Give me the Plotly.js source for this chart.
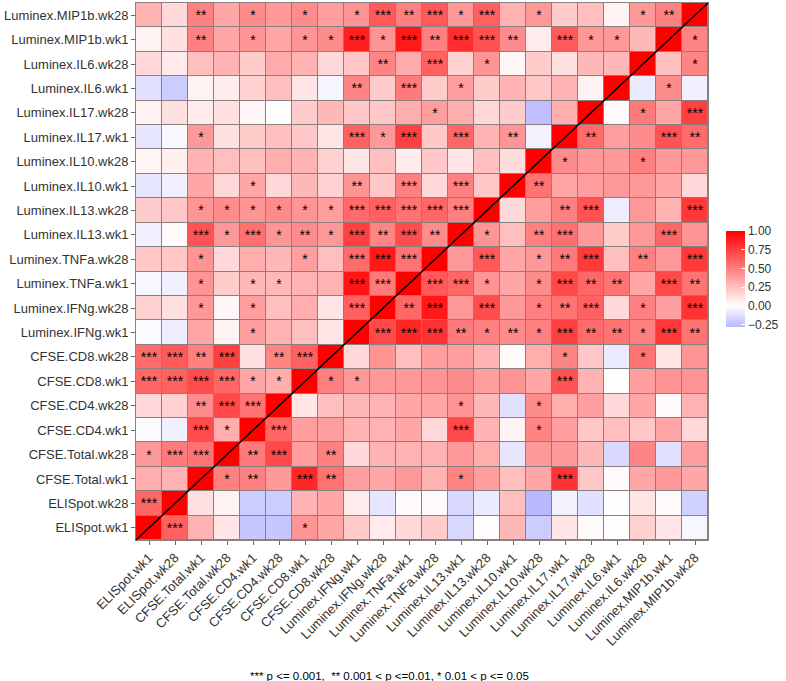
<!DOCTYPE html>
<html>
<head>
<meta charset="utf-8">
<script src="https://cdn.plot.ly/plotly-3.0.1.min.js"></script>
<style>html,body{margin:0;padding:0;background:#fff;}#chart{width:786px;height:681px;}</style>
</head>
<body>
<div id="chart"></div>
<script>
// Variables in axis order (x: left->right, y: bottom->top)
const vars = ["ELISpot.wk1","ELISpot.wk28","CFSE.Total.wk1","CFSE.Total.wk28","CFSE.CD4.wk1","CFSE.CD4.wk28",
  "CFSE.CD8.wk1","CFSE.CD8.wk28","Luminex.IFNg.wk1","Luminex.IFNg.wk28","Luminex.TNFa.wk1","Luminex.TNFa.wk28",
  "Luminex.IL13.wk1","Luminex.IL13.wk28","Luminex.IL10.wk1","Luminex.IL10.wk28","Luminex.IL17.wk1","Luminex.IL17.wk28",
  "Luminex.IL6.wk1","Luminex.IL6.wk28","Luminex.MIP1b.wk1","Luminex.MIP1b.wk28"];

// Correlation rows, listed from the TOP row (MIP1b.wk28) down to the bottom row (ELISpot.wk1)
const corrTopDown = [
 [0.30,0.15,0.50,0.35,0.45,0.40,0.45,0.38,0.42,0.65,0.50,0.65,0.40,0.62,0.30,0.40,0.20,0.25,0.05,0.40,0.50,1],
 [0.05,0.12,0.50,0.35,0.42,0.35,0.42,0.45,0.88,0.42,0.90,0.50,0.82,0.68,0.45,0.08,0.65,0.40,0.40,0.28,1,0.48],
 [0.15,0.08,0.25,0.30,0.20,0.33,0.30,0.15,0.22,0.48,0.33,0.62,0.18,0.42,0.03,0.20,0.12,0.28,0.28,1,0.25,0.48],
 [-0.12,-0.20,0.05,0.07,0.18,0.25,0.10,-0.04,0.48,0.20,0.52,0.20,0.38,0.20,0.30,0.22,0.30,0.05,1,-0.08,0.45,-0.06],
 [0.05,0.12,0.08,0.12,0.03,0.00,0.20,0.28,0.22,0.22,0.32,0.38,0.32,0.15,0.20,-0.25,0.32,1,0.02,0.52,0.35,0.75],
 [-0.10,-0.03,0.40,0.12,0.20,0.25,0.22,0.10,0.62,0.40,0.75,0.22,0.60,0.30,0.42,-0.05,1,0.58,0.38,0.45,0.68,0.58],
 [0.04,0.06,0.30,0.25,0.25,0.32,0.30,0.18,0.10,0.25,0.08,0.22,0.10,0.25,0.14,1,0.45,0.40,0.40,0.50,0.40,0.40],
 [-0.10,-0.06,0.35,0.15,0.35,0.15,0.28,0.18,0.42,0.22,0.50,0.15,0.50,0.22,1,0.55,0.35,0.38,0.40,0.40,0.35,0.15],
 [0.20,0.22,0.42,0.45,0.42,0.45,0.42,0.38,0.58,0.62,0.55,0.60,0.50,1,0.15,0.38,0.50,0.68,-0.07,0.40,0.30,0.78],
 [-0.06,0.02,0.68,0.40,0.56,0.42,0.45,0.40,0.75,0.48,0.70,0.45,1,0.42,0.25,0.50,0.56,0.40,0.20,0.40,0.60,0.42],
 [0.22,0.22,0.42,0.15,0.32,0.28,0.38,0.25,0.58,0.90,0.55,1,0.40,0.65,0.35,0.40,0.52,0.78,0.25,0.50,0.40,0.78],
 [-0.03,-0.06,0.42,0.20,0.28,0.28,0.30,0.30,0.92,0.52,1,0.65,0.60,0.42,0.35,0.45,0.72,0.60,0.55,0.35,0.72,0.55],
 [0.18,0.12,0.40,0.03,0.38,0.25,0.32,0.10,0.62,1,0.60,0.90,0.40,0.70,0.40,0.50,0.55,0.62,0.15,0.50,0.38,0.80],
 [-0.02,-0.07,0.35,0.05,0.38,0.30,0.25,0.10,1,0.72,0.85,0.80,0.52,0.50,0.45,0.50,0.75,0.58,0.55,0.50,0.78,0.55],
 [0.58,0.65,0.50,0.75,0.12,0.48,0.62,1,0.15,0.42,0.25,0.38,0.38,0.30,0.02,0.32,0.48,0.22,-0.08,0.55,0.10,0.42],
 [0.60,0.62,0.70,0.60,0.35,0.32,1,0.50,0.40,0.40,0.40,0.42,0.45,0.38,0.42,0.35,0.68,0.30,0.00,0.38,0.42,0.42],
 [0.15,0.18,0.45,0.72,0.55,1,0.10,0.25,0.28,0.30,0.35,0.35,0.42,0.28,-0.12,0.45,0.32,0.38,0.15,0.35,0.02,0.30],
 [-0.02,-0.06,0.70,0.32,1,0.60,0.38,0.38,0.30,0.30,0.35,0.15,0.72,0.30,0.05,0.48,0.38,0.22,0.25,0.22,0.35,0.15],
 [0.40,0.52,0.55,1,0.52,0.72,0.38,0.50,0.15,0.30,0.30,0.30,0.40,0.32,-0.10,0.40,0.40,0.28,-0.15,0.48,-0.12,0.38],
 [0.32,0.30,1,0.50,0.50,0.40,0.85,0.55,0.38,0.35,0.40,0.30,0.48,0.38,0.25,0.35,0.80,0.22,0.02,0.35,0.40,0.35],
 [0.60,1,0.12,0.05,-0.20,-0.20,0.30,0.35,0.08,-0.10,0.02,0.02,-0.15,-0.08,0.25,-0.28,-0.05,-0.12,0.00,0.10,0.02,-0.18],
 [1,0.62,0.30,0.10,-0.22,-0.22,0.42,0.35,0.20,0.08,0.15,0.20,-0.15,0.01,0.28,-0.20,0.10,0.02,0.00,0.18,0.10,-0.03]
];

// Significance stars, same layout (top row first)
const starsTopDown = [
 ['','','**','','*','','*','','*','***','**','***','*','***','','*','','','','*','**',''],
 ['','','**','','*','','*','*','***','*','***','**','***','***','**','','***','*','*','','','*'],
 ['','','','','','','','','','**','','***','','*','','','','','','','','*'],
 ['','','','','','','','','**','','***','','*','','','','','','','','*',''],
 ['','','','','','','','','','','','*','','','','','','','','*','','***'],
 ['','','*','','','','','','***','*','***','','***','','**','','','**','','','***','**'],
 ['','','','','','','','','','','','','','','','','*','','','*','',''],
 ['','','','','*','','','','**','','***','','***','','','**','','','','','',''],
 ['','','*','*','*','*','*','*','***','***','***','***','***','','','','**','***','','','','***'],
 ['','','***','*','***','*','**','*','***','**','***','**','','*','','**','***','','','','***',''],
 ['','','*','','','','*','','***','***','***','','','***','','*','**','***','','**','','***'],
 ['','','*','','*','*','','','***','***','','***','***','*','','*','***','**','**','','***','**'],
 ['','','*','','*','','','','***','','**','***','','***','','*','**','***','','*','','***'],
 ['','','','','*','','','','','***','***','***','**','*','**','*','***','**','**','*','***','**'],
 ['***','***','**','***','','**','***','','','','','','','','','','*','','','*','',''],
 ['***','***','***','***','*','*','','*','*','','','','','','','','***','','','','',''],
 ['','','**','***','***','','','','','','','','*','','','*','','','','','',''],
 ['','','***','*','','***','','','','','','','***','','','*','','','','','',''],
 ['*','***','***','','**','***','','**','','','','','','','','','','','','','',''],
 ['','','','*','**','','***','**','','','','','*','','','','***','','','','',''],
 ['***','','','','','','','','','','','','','','','','','','','','',''],
 ['','***','','','','','*','','','','','','','','','','','','','','','']
];

const colorTicks = [-0.25, 0, 0.25, 0.5, 0.75, 1];
const footnote = "*** p <= 0.001,  ** 0.001 < p <=0.01, * 0.01 < p <= 0.05";

// ---- build ----
const z = corrTopDown.slice().reverse();
const txt = starsTopDown.slice().reverse();
let zmin = Infinity, zmax = -Infinity;
z.forEach(r => r.forEach(v => { zmin = Math.min(zmin, v); zmax = Math.max(zmax, v); }));
const maxAbs = Math.max(Math.abs(zmin), Math.abs(zmax));

function colorAt(v) {
  const f = Math.min(1, Math.abs(v) / maxAbs);
  const k = Math.round(255 * (1 - f));
  return v >= 0 ? 'rgb(255,' + k + ',' + k + ')' : 'rgb(' + k + ',' + k + ',255)';
}
const N = 60, cs = [];
for (let i = 0; i <= N; i++) { const v = zmin + (zmax - zmin) * i / N; cs.push([i / N, colorAt(v)]); }

const FONT = 'Liberation Sans, Arial, Helvetica, sans-serif';
const W = 786, H = 681, mL = 136, mR = 71, mT = 3, mB = 141;
const plotW = W - mL - mR, plotH = H - mT - mB;

const trace = {
  type: 'heatmap', x: vars, y: vars, z: z, text: txt,
  texttemplate: '%{text}', textfont: { family: FONT, size: 14, color: '#000' },
  colorscale: cs, zmin: zmin, zmax: zmax, xgap: 1, ygap: 1, hoverinfo: 'x+y+z',
  colorbar: {
    x: 1 + 18 / plotW, xanchor: 'left', xpad: 0, thickness: 19,
    lenmode: 'pixels', len: 96, y: (H - mB - 279) / plotH + 0, yanchor: 'middle', ypad: 0,
    outlinewidth: 0, ticks: 'inside', ticklen: 4, tickcolor: '#fff', tickwidth: 1,
    tickvals: colorTicks, tickformat: '.2f',
    tickfont: { family: FONT, size: 12, color: '#333' }
  }
};

const axisCommon = {
  type: 'category', showgrid: false, zeroline: false, ticks: 'outside', ticklen: 4, tickcolor: '#666',
  showline: true, mirror: true, linecolor: '#8a8080', linewidth: 1,
  tickfont: { family: FONT, size: 13, color: '#333' }, automargin: false, fixedrange: true
};

const layout = {
  width: W, height: H, margin: { l: mL, r: mR, t: mT, b: mB, pad: 0 },
  paper_bgcolor: '#fff', plot_bgcolor: '#8a8080',
  font: { family: FONT },
  xaxis: Object.assign({}, axisCommon, { tickangle: -45 }),
  yaxis: Object.assign({}, axisCommon, {}),
  shapes: [{ type: 'line', xref: 'paper', yref: 'paper', x0: 0, y0: 0, x1: 1, y1: 1, line: { color: '#000', width: 1.5 } }],
  annotations: [{
    text: footnote, showarrow: false, xref: 'paper', yref: 'paper',
    x: (W / 2 - mL) / plotW, xanchor: 'center', y: -(676 - mT - plotH) / plotH, yanchor: 'middle',
    font: { family: FONT, size: 11.5, color: '#000' }
  }]
};

Plotly.newPlot('chart', [trace], layout, { displayModeBar: false, staticPlot: true });
</script>
</body>
</html>
